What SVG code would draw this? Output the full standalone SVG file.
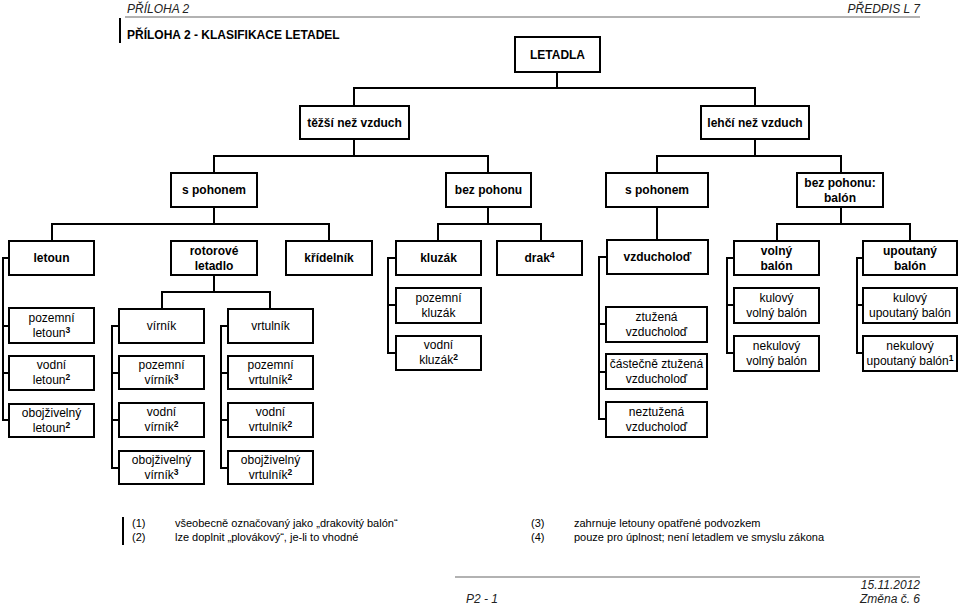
<svg xmlns="http://www.w3.org/2000/svg" width="960" height="606" viewBox="0 0 960 606">
<style>
text{font-family:"Liberation Sans",Arial,sans-serif;fill:#000}
.hd{font-size:12px;font-style:italic;fill:#222}
.tt{font-size:12px;font-weight:bold}
.b{font-size:12px;font-weight:bold;text-anchor:middle}
.r{font-size:12px;text-anchor:middle}
.fn{font-size:11px}
.sup{font-size:8.5px;font-weight:bold}
rect{fill:#fff;stroke:#000;stroke-width:2}
#connectors path{fill:none;stroke:#000;stroke-width:2}
.rule{stroke:#666;stroke-width:1.2}
.bar{stroke:#000;stroke-width:2}
</style>
<rect x="0" y="0" width="960" height="606" style="fill:#fff;stroke:none"/>
<g id="header">
<text class="hd" x="127" y="13">PŘÍLOHA 2</text>
<text class="hd" x="920" y="13" text-anchor="end">PŘEDPIS L 7</text>
<line class="rule" x1="125" y1="17" x2="920" y2="17"/>
<line class="bar" x1="120" y1="18" x2="120" y2="43"/>
<text class="tt" x="127" y="39">PŘÍLOHA 2 - KLASIFIKACE LETADEL</text>
</g>
<g id="connectors">
<path d="M557,72V88M354,106V88H755V106"/>
<path d="M354,139V156M214,173V156H488V173"/>
<path d="M755,139V156M657,173V156H841V173"/>
<path d="M214,207V224M52,241V224H329V241"/>
<path d="M488,207V224M438,241V224H541V241"/>
<path d="M657,207V240"/>
<path d="M841,207V224M777,241V224H910V241"/>
<path d="M9,258H3V420H9M3,326H9M3,373H9"/>
<path d="M214,275V292M162,309V292H270V309"/>
<path d="M119,326H112V468H119M112,373H119M112,420H119"/>
<path d="M228,326H221V468H228M221,373H228M221,420H228"/>
<path d="M396,258H388V353H396M388,305H396"/>
<path d="M607,257H599V419H606M599,324H606M599,372H606"/>
<path d="M734,258H727V353H734M727,305H734"/>
<path d="M863,258H857V353H863M857,305H863"/>
</g>
<g id="n-letadla"><rect x="515" y="37" width="85" height="35"/><text class="b" x="557.5" y="59">LETADLA</text></g>
<g id="n-tezsi"><rect x="300" y="106" width="109" height="33"/><text class="b" x="354.5" y="127">těžší než vzduch</text></g>
<g id="n-lehci"><rect x="701" y="106" width="108" height="33"/><text class="b" x="755" y="127">lehčí než vzduch</text></g>
<g id="n-spohonem1"><rect x="171" y="173" width="86" height="34"/><text class="b" x="214" y="194">s pohonem</text></g>
<g id="n-bezpohonu"><rect x="446" y="173" width="85" height="34"/><text class="b" x="488.5" y="194">bez pohonu</text></g>
<g id="n-spohonem2"><rect x="606" y="173" width="102" height="34"/><text class="b" x="657" y="194">s pohonem</text></g>
<g id="n-balon"><rect x="797" y="173" width="86" height="34"/><text class="b" x="840" y="187">bez pohonu:</text><text class="b" x="840" y="202">balón</text></g>
<g id="n-letoun"><rect x="9" y="241" width="85" height="34"/><text class="b" x="51.5" y="262">letoun</text></g>
<g id="n-rotorove"><rect x="171" y="241" width="86" height="34"/><text class="b" x="214" y="255">rotorové</text><text class="b" x="214" y="270">letadlo</text></g>
<g id="n-kridelnik"><rect x="286" y="241" width="86" height="34"/><text class="b" x="329" y="262">křídelník</text></g>
<g id="n-kluzak"><rect x="396" y="241" width="85" height="34"/><text class="b" x="438.5" y="262">kluzák</text></g>
<g id="n-drak"><rect x="497" y="241" width="85" height="34"/><text class="b" x="539.5" y="262">drak<tspan class="sup" dy="-4">4</tspan></text></g>
<g id="n-vzducholod"><rect x="607" y="240" width="101" height="34"/><text class="b" x="657.5" y="261">vzducholoď</text></g>
<g id="n-volny"><rect x="734" y="241" width="85" height="34"/><text class="b" x="776.5" y="255">volný</text><text class="b" x="776.5" y="270">balón</text></g>
<g id="n-upoutany"><rect x="863" y="241" width="94" height="34"/><text class="b" x="910" y="255">upoutaný</text><text class="b" x="910" y="270">balón</text></g>
<g id="n-pozemni-letoun"><rect x="9" y="308" width="85" height="35"/><text class="r" x="51.5" y="322">pozemní</text><text class="r" x="51.5" y="337">letoun<tspan class="sup" dy="-4">3</tspan></text></g>
<g id="n-vodni-letoun"><rect x="9" y="356" width="85" height="34"/><text class="r" x="51.5" y="369">vodní</text><text class="r" x="51.5" y="384">letoun<tspan class="sup" dy="-4">2</tspan></text></g>
<g id="n-obojzivelny-letoun"><rect x="9" y="404" width="85" height="33"/><text class="r" x="51.5" y="417">obojživelný</text><text class="r" x="51.5" y="432">letoun<tspan class="sup" dy="-4">2</tspan></text></g>
<g id="n-virnik"><rect x="119" y="309" width="85" height="34"/><text class="r" x="161.5" y="330">vírník</text></g>
<g id="n-pozemni-virnik"><rect x="119" y="356" width="85" height="33"/><text class="r" x="161.5" y="369">pozemní</text><text class="r" x="161.5" y="384">vírník<tspan class="sup" dy="-4">3</tspan></text></g>
<g id="n-vodni-virnik"><rect x="119" y="403" width="85" height="34"/><text class="r" x="161.5" y="416">vodní</text><text class="r" x="161.5" y="431">vírník<tspan class="sup" dy="-4">2</tspan></text></g>
<g id="n-obojzivelny-virnik"><rect x="119" y="451" width="85" height="33"/><text class="r" x="161.5" y="464">obojživelný</text><text class="r" x="161.5" y="479">vírník<tspan class="sup" dy="-4">3</tspan></text></g>
<g id="n-vrtulnik"><rect x="228" y="309" width="85" height="34"/><text class="r" x="270.5" y="330">vrtulník</text></g>
<g id="n-pozemni-vrtulnik"><rect x="228" y="356" width="85" height="33"/><text class="r" x="270.5" y="369">pozemní</text><text class="r" x="270.5" y="384">vrtulník<tspan class="sup" dy="-4">2</tspan></text></g>
<g id="n-vodni-vrtulnik"><rect x="228" y="403" width="85" height="34"/><text class="r" x="270.5" y="416">vodní</text><text class="r" x="270.5" y="431">vrtulník<tspan class="sup" dy="-4">2</tspan></text></g>
<g id="n-obojzivelny-vrtulnik"><rect x="228" y="451" width="85" height="33"/><text class="r" x="270.5" y="464">obojživelný</text><text class="r" x="270.5" y="479">vrtulník<tspan class="sup" dy="-4">2</tspan></text></g>
<g id="n-pozemni-kluzak"><rect x="396" y="288" width="85" height="35"/><text class="r" x="438.5" y="302">pozemní</text><text class="r" x="438.5" y="317">kluzák</text></g>
<g id="n-vodni-kluzak"><rect x="396" y="336" width="85" height="34"/><text class="r" x="438.5" y="349">vodní</text><text class="r" x="438.5" y="364">kluzák<tspan class="sup" dy="-4">2</tspan></text></g>
<g id="n-ztuzena"><rect x="606" y="307" width="101" height="35"/><text class="r" x="656.5" y="321">ztužená</text><text class="r" x="656.5" y="336">vzducholoď</text></g>
<g id="n-castecne"><rect x="606" y="354" width="101" height="35"/><text class="r" x="656.5" y="368">částečně ztužená</text><text class="r" x="656.5" y="383">vzducholoď</text></g>
<g id="n-neztuzena"><rect x="606" y="402" width="101" height="35"/><text class="r" x="656.5" y="416">neztužená</text><text class="r" x="656.5" y="431">vzducholoď</text></g>
<g id="n-kulovy-volny"><rect x="734" y="288" width="85" height="35"/><text class="r" x="776.5" y="302">kulový</text><text class="r" x="776.5" y="317">volný balón</text></g>
<g id="n-nekulovy-volny"><rect x="734" y="336" width="85" height="35"/><text class="r" x="776.5" y="350">nekulový</text><text class="r" x="776.5" y="365">volný balón</text></g>
<g id="n-kulovy-upoutany"><rect x="863" y="288" width="94" height="35"/><text class="r" x="910" y="302">kulový</text><text class="r" x="910" y="317">upoutaný balón</text></g>
<g id="n-nekulovy-upoutany"><rect x="863" y="336" width="94" height="35"/><text class="r" x="910" y="350">nekulový</text><text class="r" x="910" y="365">upoutaný balón<tspan class="sup" dy="-4">1</tspan></text></g>
<g id="footnotes">
<line class="bar" x1="123" y1="517" x2="123" y2="545"/>
<text class="fn" x="132" y="527">(1)</text>
<text class="fn" x="175" y="527">všeobecně označovaný jako „drakovitý balón“</text>
<text class="fn" x="132" y="541">(2)</text>
<text class="fn" x="175" y="541">lze doplnit „plovákový“, je-li to vhodné</text>
<text class="fn" x="531" y="527">(3)</text>
<text class="fn" x="574" y="527">zahrnuje letouny opatřené podvozkem</text>
<text class="fn" x="531" y="541">(4)</text>
<text class="fn" x="574" y="541">pouze pro úplnost; není letadlem ve smyslu zákona</text>
</g>
<g id="footer">
<line class="rule" x1="455" y1="577" x2="920" y2="577"/>
<text class="hd" x="920" y="589" text-anchor="end">15.11.2012</text>
<text class="hd" x="466" y="603">P2 - 1</text>
<text class="hd" x="920" y="603" text-anchor="end">Změna č. 6</text>
</g>
</svg>
